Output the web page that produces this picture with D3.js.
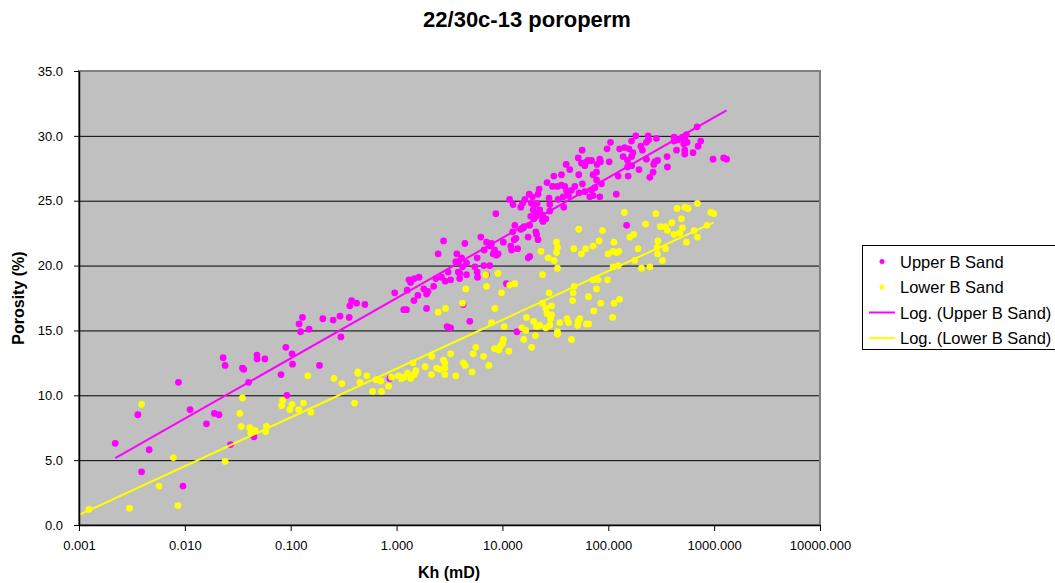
<!DOCTYPE html>
<html>
<head>
<meta charset="utf-8">
<script src="https://cdn.jsdelivr.net/npm/d3@7"></script>
<style>
	body { margin: 0; background: #fff; }
	svg { display: block; font-family: "Liberation Sans", Arial, sans-serif; }
</style>
</head>
<body>
<svg id="chart" width="1055" height="583"></svg>
<script>
'use strict';

// Data: [Kh (mD), porosity (%)]
var upperSand = [
	[0.0087,11.0],[0.0036,8.5],[0.0112,8.9],[0.0022,6.3],[0.0046,5.8],[0.0039,4.1],[0.0096,3.0],[0.027,6.2],[0.045,6.8],
	[0.023,12.9],[0.024,12.3],[0.035,12.1],[0.036,12.0],[0.040,11.0],[0.048,13.1],[0.048,12.8],[0.057,12.8],[0.081,11.6],
	[0.090,13.7],[0.103,13.2],[0.104,12.4],[0.092,10.0],[0.120,15.5],[0.129,16.0],[0.124,14.9],[0.149,15.1],[0.187,12.3],
	[0.019,8.6],[0.021,8.5],[0.016,7.8],[0.201,15.9],
	[2.78,21.9],[2.47,20.9],[3.71,20.9],[3.63,20.3],[3.85,20.3],[3.82,19.5],[3.07,19.5],[2.66,19.1],[2.35,19.0],[2.88,18.8],
	[3.24,18.9],[3.94,19.0],[1.31,18.9],[1.36,18.7],[1.47,19.0],[1.63,19.1],[1.26,18.1],[1.81,18.2],[1.98,18.0],[1.92,17.8],
	[2.24,18.4],[0.96,17.9],[1.59,17.7],[1.46,17.3],[1.92,16.7],[1.17,16.6],[1.24,16.6],[0.376,17.3],[0.362,16.9],[0.419,17.1],
	[0.502,17.0],[0.292,16.1],[0.252,15.8],[0.357,16.0],[0.298,14.5],[3.00,15.3],[3.24,15.2],[0.865,11.3],[4.92,15.7],
	[13.7,14.9],[4.26,17.0],
	[52,28.3],[40,27.8],[43.3,27.4],[36.1,27.0],[30.6,26.9],[26.4,26.4],[29.7,26.1],[33.1,26.1],[36.1,26.2],[38.8,26.1],
	[40.3,25.8],[44.9,25.8],[48.3,26.1],[52.6,27.0],[53.0,25.6],[42.1,25.4],[40.8,25.7],[37.4,25.3],[33.6,25.1],[27.6,25.2],
	[22.2,25.9],[21.7,25.5],[17.9,25.5],[19.2,25.3],[15.5,24.8],[14.9,24.5],[12.6,24.7],[11.7,25.1],[18.8,24.8],[20.2,24.7],
	[21.3,24.8],[22.5,24.3],[19.5,24.3],[21.0,24.0],[19.8,23.6],[23.9,23.9],[25.7,23.6],[23.9,23.5],[28.0,24.2],[18.1,23.1],
	[18.5,23.8],[15.7,22.9],[14.9,22.8],[13.1,23.1],[12.5,22.6],[13.4,22.1],[12.9,22.0],[17.5,22.2],[21.0,22.4],[21.7,22.0],
	[8.67,24.0],[6.25,22.2],[7.08,21.8],[7.89,21.7],[7.60,21.5],[8.42,21.2],[8.17,20.9],[8.79,20.8],[6.72,21.2],[5.77,20.6],
	[10.2,21.8],[12.0,21.5],[12.2,21.2],[13.9,21.3],[18.1,20.7],[17.5,20.6],[4.42,21.7],[4.11,20.6],[4.58,20.2],[4.20,19.9],
	[3.96,19.4],[5.49,19.9],[5.77,19.5],[6.67,20.0],[7.60,20.0],[7.08,19.3],[5.82,19.1],[4.58,19.3],[10.9,18.6],[16.0,23.0],
	[24.2,23.4],[20.7,22.6],[9.1,20.9],[38.0,24.5],[28.0,24.7],[16.3,25.1],
	[690,30.7],[182,30.0],[238,30.0],[240,29.7],[229,29.5],[285,29.8],[418,29.9],[418,29.6],[456,29.7],[502,29.9],
	[547,30.1],[528,29.7],[555,29.5],[516,29.4],[705,29.2],[747,29.6],[105,29.5],[97.4,29.0],[128,29.0],[143,29.1],
	[157,29.0],[166,29.6],[203,29.2],[210,28.9],[171,28.7],[166,28.4],[138,28.4],[152,28.1],[229,28.2],[275,28.0],
	[292,28.1],[269,27.8],[359,28.4],[441,28.9],[528,28.9],[528,28.6],[632,28.7],[977,28.2],[1230,28.3],[1310,28.2],
	[362,27.6],[195,27.4],[265,27.2],[247,26.8],[166,27.7],[152,27.6],[154,26.9],[124,26.9],[102,28.0],[83.2,28.2],
	[84.4,28.0],[78.4,27.8],[77.4,27.2],[71.8,27.0],[56.6,28.9],[64.5,28.1],[69.4,28.1],[62.2,28.0],[60.0,27.7],[55.8,27.9],
	[57.0,26.3],[77.4,26.6],[86.3,26.3],[74.6,26.0],[69.4,25.8],[71.8,25.4],[66.9,25.3],[60.0,25.7],[83.2,25.3],[119,25.5],
	[149,23.1]
];

var lowerSand = [
	[0.0039,9.3],[0.0078,5.2],[0.0057,3.0],[0.00124,1.2],[0.0030,1.3],[0.0086,1.5],[0.024,4.9],[0.042,7.1],[0.046,7.3],[0.058,7.2],
	[0.035,9.8],[0.033,8.6],[0.034,7.6],[0.041,7.5],[0.059,7.6],[0.084,9.6],[0.082,9.2],[0.103,9.3],[0.098,8.9],[0.119,8.9],
	[0.132,9.4],[0.155,8.7],[0.145,11.5],[0.401,9.4],
	[0.256,11.3],[0.304,10.9],[0.431,11.8],[0.431,11.7],[0.450,11.0],[0.524,11.5],[0.593,10.3],[0.641,11.2],[0.711,11.1],
	[0.721,10.3],[0.840,10.7],[0.897,11.4],[1.04,11.5],[1.11,11.3],[1.17,11.4],[1.27,11.7],[1.36,11.3],[1.47,11.6],[1.43,12.5],
	[1.52,11.9],[1.86,12.2],[2.14,11.6],[2.15,13.0],[2.39,12.1],[2.56,12.0],[2.78,12.7],[2.86,12.5],[2.86,12.1],[2.86,11.6],
	[3.24,13.2],[3.63,11.5],[2.47,16.4],[2.90,16.7],
	[7.89,15.6],[10.4,15.3],[19.7,15.7],[21.0,15.3],[15.3,15.2],[20.5,14.6],[16.6,15.0],[15.9,14.3],[18.9,13.7],[10.2,14.3],
	[10.0,14.0],[9.6,13.8],[9.0,13.6],[8.4,13.6],[9.25,13.5],[11.5,13.4],[5.61,13.7],[6.63,13.0],[5.29,13.2],[7.44,12.3],
	[4.26,12.5],[4.44,12.3],[5.17,11.8],
	[9.1,19.4],[6.97,19.3],[7.08,18.4],[9.8,17.9],[4.51,18.2],[11.7,18.5],[13.1,18.6],[8.48,16.7],[4.20,17.1],[16.9,16.0],
	[23.1,21.1],[32.4,21.8],[33.1,21.4],[32.4,21.0],[27.0,20.6],[30.8,20.4],[33.1,19.8],[47.2,21.3],[52.6,22.8],[23.9,19.3],
	[47.5,18.4],[71.8,18.9],[80.1,18.9],[98.3,18.9],[77.4,18.2],
	[27.6,17.9],[46.5,17.9],[65.0,17.6],[45.9,17.3],[85.0,17.1],[113,17.1],[128,17.4],[73.0,16.5],[110,16.0],[23.9,17.1],
	[25.7,16.7],[29.1,16.9],[26.4,16.3],[29.1,16.2],[28.5,15.9],[34.8,15.6],[40.8,15.9],[42.1,15.6],[51.9,15.7],[53.8,15.9],
	[51.2,15.4],[62.2,15.5],[65.5,15.5],[22.5,15.4],[25.7,15.2],[28.0,15.4],[33.1,14.9],[33.1,14.7],[44.9,14.3],
	[88.2,22.7],[81.9,21.9],[113,21.8],[71.8,21.5],[61.3,21.3],[55.8,20.9],[111,21.1],[120,21.0],[126,21.1],[99.5,20.9],
	[111,19.9],[124,20.0],
	[142,24.1],[281,24.0],[446,24.4],[528,24.5],[567,24.4],[695,24.8],[929,24.1],[991,24.0],[491,23.6],[398,23.3],
	[225,23.2],[311,23.0],[347,23.0],[362,22.7],[502,22.9],[646,22.7],[857,23.1],[174,22.4],[160,22.2],[418,22.4],
	[473,22.5],[695,22.2],[295,21.9],[547,21.8],[191,21.3],[289,21.4],[347,21.3],[292,20.9],[325,20.4],[178,20.4],
	[206,19.8],[247,19.9]
];

var seriesNames = ['Upper B Sand', 'Lower B Sand'];
var trendNames = ['Log. (Upper B Sand)', 'Log. (Lower B Sand)'];
var seriesColors = ['#FF00FF', '#FFFF00'];
var xTicks = [0.001, 0.01, 0.1, 1, 10, 100, 1000, 10000];
var yTicks = [0, 5, 10, 15, 20, 25, 30, 35];
var lowerTrendStart = 0.001;

var svg = d3.select('#chart');

// Dimensions
var plot = {left: 79, right: 820, top: 71, bottom: 525};

// Scales
var x = d3.scaleLog()
	.domain([0.001, 10000])
	.range([plot.left, plot.right]);
var y = d3.scaleLinear()
	.domain([0, 35])
	.range([plot.bottom, plot.top]);

// Log trendline, least squares on ln(K) like Excel
function logFit(data) {
	var n = data.length, sx = 0, sy = 0, sxx = 0, sxy = 0;
	data.forEach(function(d) {
		var l = Math.log(d[0]);
		sx += l; sy += d[1]; sxx += l * l; sxy += l * d[1];
	});
	var a = (n * sxy - sx * sy) / (n * sxx - sx * sx);
	var b = (sy - a * sx) / n;
	return function(k) { return a * Math.log(k) + b; };
}

// Plot background
svg.append('rect')
	.attr('x', plot.left)
	.attr('y', plot.top)
	.attr('width', plot.right - plot.left)
	.attr('height', plot.bottom - plot.top)
	.attr('fill', '#C0C0C0');

// Gridlines
svg.append('g')
	.selectAll('line')
	.data(yTicks.filter(function(t) { return t > 0 && t < 35; }))
	.enter().append('line')
		.attr('x1', plot.left)
		.attr('x2', plot.right)
		.attr('y1', function(d) { return y(d) + 0.5; })
		.attr('y2', function(d) { return y(d) + 0.5; })
		.attr('stroke', '#000')
		.attr('stroke-width', 1);

// Plot border
svg.append('rect')
	.attr('x', plot.left)
	.attr('y', plot.top)
	.attr('width', plot.right - plot.left)
	.attr('height', plot.bottom - plot.top)
	.attr('fill', 'none')
	.attr('stroke', '#808080')
	.attr('stroke-width', 2);

// Points
var series = [upperSand, lowerSand];
series.forEach(function(data, i) {
	svg.append('g')
		.selectAll('circle')
		.data(data)
		.enter().append('circle')
			.attr('cx', function(d) { return x(d[0]); })
			.attr('cy', function(d) { return y(d[1]); })
			.attr('r', 3.4)
			.attr('fill', seriesColors[i]);
});

// Trendlines
series.forEach(function(data, i) {
	var fit = logFit(data);
	var ext = d3.extent(data, function(d) { return d[0]; });
	if (i === 1) ext[0] = lowerTrendStart;
	svg.append('line')
		.attr('x1', x(ext[0]))
		.attr('y1', y(fit(ext[0])))
		.attr('x2', x(ext[1]))
		.attr('y2', y(fit(ext[1])))
		.attr('stroke', seriesColors[i])
		.attr('stroke-width', 2);
});

// X Axis
var xAxis = svg.append('g')
	.attr('transform', 'translate(0,' + plot.bottom + ')')
	.call(d3.axisBottom(x).tickValues(xTicks).tickFormat(d3.format('.3f')).tickSize(6).tickSizeOuter(0));
xAxis.select('.domain').attr('stroke', '#000').attr('stroke-width', 1.5);
xAxis.selectAll('.tick text')
	.attr('font-family', '"Liberation Sans", Arial, sans-serif')
	.attr('font-size', 13)
	.attr('fill', '#000')
	.attr('dy', '1.2em');

// Y Axis
var yAxis = svg.append('g')
	.attr('transform', 'translate(' + plot.left + ',0)')
	.call(d3.axisLeft(y).tickValues(yTicks).tickFormat(d3.format('.1f')).tickSize(5).tickSizeOuter(0));
yAxis.select('.domain').attr('stroke', '#000').attr('stroke-width', 1.5);
yAxis.selectAll('.tick text')
	.attr('font-family', '"Liberation Sans", Arial, sans-serif')
	.attr('font-size', 13)
	.attr('fill', '#000')
	.attr('x', -16);

// Titles
svg.append('text')
	.attr('x', 527)
	.attr('y', 27)
	.attr('text-anchor', 'middle')
	.attr('font-size', 22)
	.attr('font-weight', 'bold')
	.text('22/30c-13 poroperm');

svg.append('text')
	.attr('x', 449)
	.attr('y', 578)
	.attr('text-anchor', 'middle')
	.attr('font-size', 16)
	.attr('font-weight', 'bold')
	.text('Kh (mD)');

svg.append('text')
	.attr('transform', 'translate(24,298) rotate(-90)')
	.attr('text-anchor', 'middle')
	.attr('font-size', 16)
	.attr('font-weight', 'bold')
	.text('Porosity (%)');

// Legend
var legend = svg.append('g');
legend.append('rect')
	.attr('x', 862.5)
	.attr('y', 245.5)
	.attr('width', 200)
	.attr('height', 104)
	.attr('fill', '#fff')
	.attr('stroke', '#000');

var rows = seriesNames.concat(trendNames);
rows.forEach(function(name, i) {
	var cy = 261.5 + i * 25.5;
	var row = legend.append('g');
	if (i < 2) {
		row.append('circle')
			.attr('cx', 882)
			.attr('cy', cy)
			.attr('r', 2.5)
			.attr('fill', seriesColors[i]);
	} else {
		row.append('line')
			.attr('x1', 869)
			.attr('x2', 895)
			.attr('y1', cy)
			.attr('y2', cy)
			.attr('stroke', seriesColors[i - 2])
			.attr('stroke-width', 2);
	}
	row.append('text')
		.attr('x', 900)
		.attr('y', cy + 6)
		.attr('font-size', 16.5)
		.text(name);
});
</script>
</body>
</html>
